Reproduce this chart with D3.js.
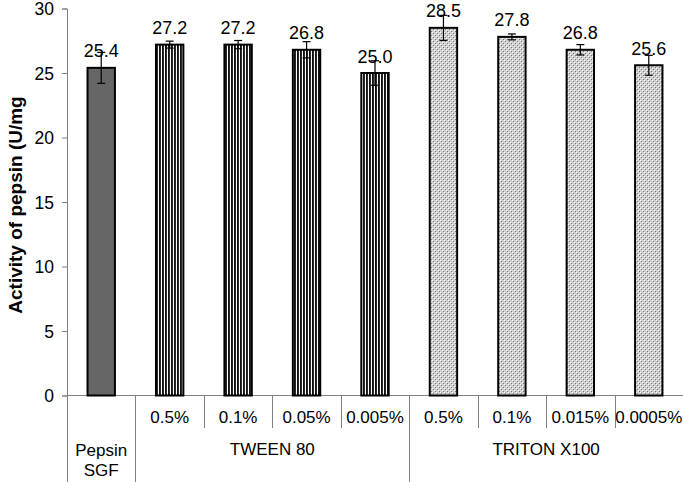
<!DOCTYPE html>
<html>
<head>
<meta charset="utf-8">
<script src="https://cdn.jsdelivr.net/npm/d3@7"></script>
<style>
  body { margin: 0; background: #fff; }
  svg { display: block; font-family: "Liberation Sans", Arial, sans-serif; }
</style>
</head>
<body>
<svg id="chart" width="683" height="482"></svg>
<script>
// ---- data ----
const subLabels = ["", "0.5%", "0.1%", "0.05%", "0.005%", "0.5%", "0.1%", "0.015%", "0.0005%"];
const groupOf = ["Pepsin SGF", "TWEEN 80", "TWEEN 80", "TWEEN 80", "TWEEN 80", "TRITON X100", "TRITON X100", "TRITON X100", "TRITON X100"];
const values = [25.4, 27.2, 27.2, 26.8, 25.0, 28.5, 27.8, 26.8, 25.6];
const errors = [1.2, 0.27, 0.32, 0.63, 0.95, 0.97, 0.23, 0.4, 0.77];
const yTicks = [0, 5, 10, 15, 20, 25, 30];
const yTitle = "Activity of pepsin (U/mg";

// ---- layout ----
const svg = d3.select("#chart");
const x0 = 67, x1 = 683, yTop = 8.5, yBot = 395.5;
const idx = d3.range(values.length);
const x = d3.scaleBand().domain(idx).range([x0, x1]).paddingInner(0.6).paddingOuter(0.3);
const y = d3.scaleLinear().domain([0, 30]).range([yBot, yTop]);
const step = x.step();

// patterns
const defs = svg.append("defs");
const stripe = defs.append("pattern").attr("id", "stripes").attr("patternUnits", "userSpaceOnUse")
  .attr("width", 3).attr("height", 4);
stripe.append("rect").attr("width", 3).attr("height", 4).attr("fill", "#fff");
stripe.append("rect").attr("width", 1.9).attr("height", 4).attr("fill", "#111");

const dots = defs.append("pattern").attr("id", "dots").attr("patternUnits", "userSpaceOnUse")
  .attr("width", 4).attr("height", 4);
dots.append("rect").attr("width", 4).attr("height", 4).attr("fill", "#d0d0d0");
dots.append("rect").attr("x", 0).attr("y", 0).attr("width", 1).attr("height", 1).attr("fill", "#fff");
dots.append("rect").attr("x", 2).attr("y", 2).attr("width", 1).attr("height", 1).attr("fill", "#fff");
dots.append("rect").attr("x", 1).attr("y", 1).attr("width", 1).attr("height", 1).attr("fill", "#777");
dots.append("rect").attr("x", 3).attr("y", 3).attr("width", 1).attr("height", 1).attr("fill", "#777");

function fillFor(i) {
  if (groupOf[i] === "Pepsin SGF") return "#666666";
  if (groupOf[i] === "TWEEN 80") return "url(#stripes)";
  return "url(#dots)";
}

// y axis
const yAxis = d3.axisLeft(y).tickValues(yTicks).tickSize(5).tickPadding(8).tickFormat(d3.format("d"));
const gy = svg.append("g").attr("transform", `translate(${x0},0)`).call(yAxis);
gy.select(".domain").attr("stroke", "#808080");
gy.selectAll(".tick line").attr("stroke", "#808080");
gy.selectAll(".tick text").attr("font-size", 17.5).attr("fill", "#000").attr("dy", "0.35em")
  .attr("font-family", "Liberation Sans, Arial, sans-serif");

// y title
svg.append("text")
  .attr("transform", `translate(22,205) rotate(-90)`)
  .attr("text-anchor", "middle")
  .attr("font-size", 19).attr("font-weight", "bold").attr("fill", "#000")
  .text(yTitle);

// x axis baseline
svg.append("line").attr("x1", x0).attr("x2", x1).attr("y1", yBot).attr("y2", yBot)
  .attr("stroke", "#808080").attr("stroke-width", 1);

// table separators
const boundaries = d3.range(values.length).map(i => x0 + i * step);
boundaries.forEach((bx, i) => {
  const full = i === 0 || groupOf[i] !== groupOf[i - 1];
  svg.append("line")
    .attr("x1", Math.round(bx) + 0.5).attr("x2", Math.round(bx) + 0.5)
    .attr("y1", yBot).attr("y2", full ? 482 : 428)
    .attr("stroke", "#808080").attr("stroke-width", 1);
});

// bars
svg.append("g").selectAll("rect").data(idx).join("rect")
  .attr("x", i => x(i)).attr("width", x.bandwidth())
  .attr("y", i => y(values[i])).attr("height", i => y(0) - y(values[i]))
  .attr("fill", i => fillFor(i))
  .attr("stroke", "#000").attr("stroke-width", 2);

// error bars
const eg = svg.append("g").attr("stroke", "#000").attr("stroke-width", 1.2);
idx.forEach(i => {
  const cx = x(i) + x.bandwidth() / 2;
  const hi = y(values[i] + errors[i]), lo = y(values[i] - errors[i]);
  eg.append("line").attr("x1", cx).attr("x2", cx).attr("y1", hi).attr("y2", lo);
  eg.append("line").attr("x1", cx - 4).attr("x2", cx + 4).attr("y1", hi).attr("y2", hi);
  eg.append("line").attr("x1", cx - 4).attr("x2", cx + 4).attr("y1", lo).attr("y2", lo);
});

// value labels
svg.append("g").selectAll("text").data(idx).join("text")
  .attr("x", i => x(i) + x.bandwidth() / 2)
  .attr("y", i => y(values[i]) - 10.5)
  .attr("text-anchor", "middle").attr("font-size", 18).attr("fill", "#000")
  .text(i => d3.format(".1f")(values[i]));

// sub labels
svg.append("g").selectAll("text").data(idx.filter(i => subLabels[i] !== "")).join("text")
  .attr("x", i => x(i) + x.bandwidth() / 2)
  .attr("y", 423)
  .attr("text-anchor", "middle").attr("font-size", 17).attr("fill", "#000")
  .text(i => subLabels[i]);

// group labels
const groups = Array.from(d3.group(idx, i => groupOf[i]), ([k, v]) => ({ k, v }));
groups.forEach(g => {
  const cx = (x0 + d3.min(g.v) * step + x0 + (d3.max(g.v) + 1) * step) / 2;
  if (g.v.length === 1) {
    const words = g.k.split(" ");
    words.forEach((w, j) => {
      svg.append("text").attr("x", cx).attr("y", 456 + j * 19.5)
        .attr("text-anchor", "middle").attr("font-size", 17).attr("fill", "#000").text(w);
    });
  } else {
    svg.append("text").attr("x", cx).attr("y", 455)
      .attr("text-anchor", "middle").attr("font-size", 17).attr("fill", "#000").text(g.k);
  }
});
</script>
</body>
</html>
